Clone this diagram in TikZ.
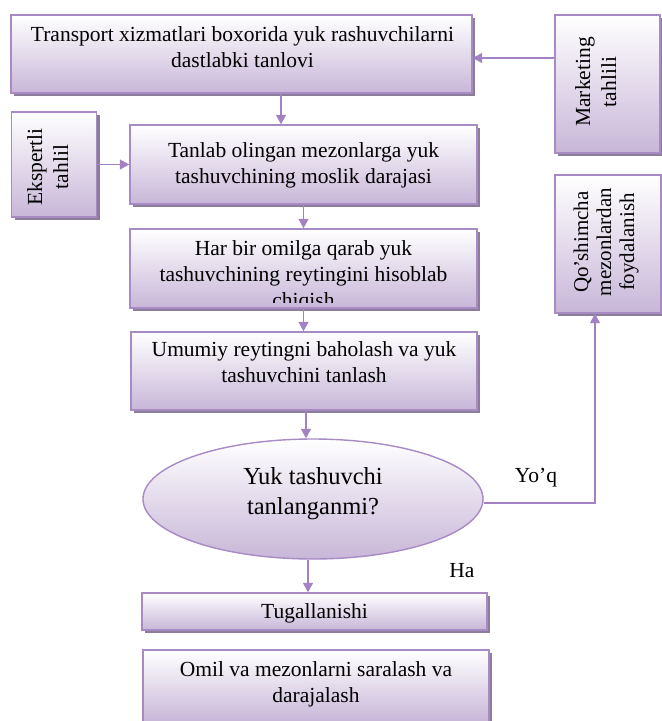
\documentclass[tikz,border=0pt]{standalone}
\usepackage{fontspec}
\setmainfont{Liberation Serif}
\usetikzlibrary{shapes.geometric,arrows.meta,shadows}
\definecolor{bordc}{RGB}{168,138,196}
\definecolor{botc}{RGB}{200,182,216}
\definecolor{shadc}{RGB}{140,126,152}
\definecolor{connc}{RGB}{163,130,195}
\begin{document}
\begin{tikzpicture}[x=1pt,y=-1pt,
  boxbase/.style={draw=bordc, line width=1.4pt, top color=white, bottom color=botc, inner sep=0pt},
  box/.style={boxbase, drop shadow={shadow xshift=3pt,shadow yshift=-3pt,fill=shadc,opacity=1}},
  ell/.style={boxbase, ellipse},
  txt/.style={font=\fontsize{21.5}{26}\selectfont, align=center, inner sep=0pt, text height=15pt, text depth=5pt},
  bigtxt/.style={font=\fontsize{24.5}{30}\selectfont, align=center, inner sep=0pt, text height=17pt, text depth=6pt},
  conn/.style={draw=connc, line width=1.3pt, -{Triangle[length=9.5pt,width=10pt]}},
  plain/.style={draw=connc, line width=1.3pt}]
\useasboundingbox (0,0) rectangle (662,721);

% boxes
\node[box, minimum width=461pt, minimum height=78pt] (box1) at (241.5,54) {};
\node[box, minimum width=105pt, minimum height=138pt] (mark) at (607.5,84) {};
\node[box, minimum width=85pt, minimum height=105pt] (eksp) at (54,164.5) {};
\node[box, minimum width=347pt, minimum height=79pt] (box2) at (303.5,164.5) {};
\node[box, minimum width=347pt, minimum height=79pt] (box3) at (303.5,268.5) {};
\node[box, minimum width=346pt, minimum height=78pt] (box4) at (304,371) {};
\node[box, minimum width=106pt, minimum height=138pt] (qo) at (608,244) {};
\node[ell, minimum width=340pt, minimum height=120pt] (el) at (313,499) {};
\node[box, minimum width=345pt, minimum height=37pt] (tug) at (314.5,611.5) {};
\node[box, minimum width=346pt, minimum height=72pt] (omil) at (316,686) {};

% texts (node position = last line)
\node[txt] (t1) at (242.5,62) {Transport xizmatlari boxorida yuk rashuvchilarni\\dastlabki tanlovi};
\node[txt, rotate=90] (tm) at (611,82) {Marketing\\tahlili};
\node[txt, rotate=90] (te) at (63,167) {Ekspertli\\tahlil};
\node[txt] (t2) at (303.5,178) {Tanlab olingan mezonlarga yuk\\tashuvchining moslik darajasi};
\begin{scope}
  \clip (130,229) rectangle (477,302.5);
  \node[txt] (t3) at (303.5,302) {Har bir omilga qarab yuk\\tashuvchining reytingini hisoblab\\chiqish};
\end{scope}
\node[txt] (t4) at (304,377) {Umumiy reytingni baholash va yuk\\tashuvchini tanlash};
\node[txt, rotate=90, font=\fontsize{21}{23}\selectfont] (tq) at (629,242) {Qo’shimcha\\mezonlardan\\foydalanish};
\node[bigtxt] (te2) at (313,509) {Yuk tashuvchi\\tanlanganmi?};
\node[txt] (tt) at (314.5,613) {Tugallanishi};
\node[txt] (to) at (316,697) {Omil va mezonlarni saralash va\\darajalash};
\node[txt] (yoq) at (536,477) {Yo’q};
\node[txt] (ha) at (462,572) {Ha};

% connectors
\draw[conn] ([yshift=26pt]mark.west) -- ([yshift=26pt]mark.west -| box1.east);
\draw[conn] ([xshift=39.5pt]box1.south) -- ([xshift=39.5pt]box1.south |- box2.north);
\draw[conn] (eksp.east) -- (eksp.east -| box2.west);
\draw[conn] (box2.south) -- (box3.north);
\draw[conn] (box3.south) -- (box3.south |- box4.north);
\draw[conn] ([xshift=2pt]box4.south) -- ([xshift=2pt]box4.south |- el.north);
\draw[conn] ([xshift=-5pt]el.south) -- ([xshift=-5pt]el.south |- tug.north);
\draw[conn] ([yshift=-4pt]el.east) -| ([xshift=-13pt]qo.south);
\end{tikzpicture}
\end{document}
